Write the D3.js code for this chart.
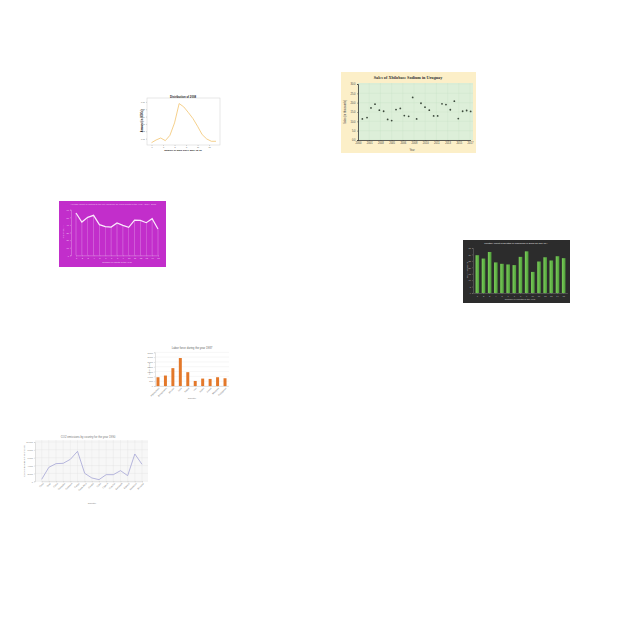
<!DOCTYPE html>
<html>
<head>
<meta charset="utf-8">
<script src="https://cdn.jsdelivr.net/npm/d3@7"></script>
<style>
  body { margin: 0; background: #fff; }
  svg { display: block; }
  text { font-family: "Liberation Sans", Arial, sans-serif; }
</style>
</head>
<body>
<svg width="640" height="640"></svg>
<script>
// ---- data ----
// distribution line (top left)
var distDays = [0, 1, 2, 3, 4, 5, 6, 7, 8, 9, 10, 11, 12, 13, 14];
var distVals = [0.0045, 0.0082, 0.0109, 0.0073, 0.0145, 0.0314, 0.0577, 0.0532, 0.0455, 0.0373, 0.0268, 0.0155, 0.0095, 0.0064, 0.0064];
var distYTicks = [0.01, 0.02, 0.03, 0.04, 0.05, 0.06];
var distXTicks = [0, 2.5, 5, 7.5, 10, 12.5];

// sales scatter (top right)
var salesYears = [2000.66, 2001.37, 2001.97, 2002.58, 2003.24, 2003.89, 2004.50, 2005.11, 2005.77, 2006.42,
                  2007.03, 2007.69, 2008.30, 2008.90, 2009.56, 2010.17, 2010.82, 2011.48, 2012.09, 2012.75,
                  2013.35, 2014.01, 2014.62, 2015.22, 2015.88, 2016.49, 2017.10];
var salesVals = [11.3, 12.0, 17.2, 19.2, 16.0, 15.4, 11.0, 10.4, 16.3, 16.9,
                 13.1, 12.7, 22.8, 11.3, 19.7, 17.6, 16.0, 12.9, 12.9, 19.4,
                 19.0, 16.2, 20.8, 11.5, 15.4, 15.8, 15.3];
var salesXTicks = [2000, 2001.7, 2003.4, 2005.1, 2006.8, 2008.5, 2010.2, 2011.9, 2013.6, 2015.3, 2017];
var salesYTicks = [0, 5, 10, 15, 20, 25, 30];

// magenta line
var visitMonths = ['1', '2', '3', '4', '5', '6', '7', '8', '9', '10', '11', '12', '13', '14', '15'];
var visitVals = [55.6, 43.8, 49.9, 52.6, 40.3, 37.7, 37.2, 42.5, 39.4, 36.8, 46.4, 46.0, 42.9, 48.2, 34.6];
var visitYTicks = [0, 10, 20, 30, 40, 50, 60];

// dark green bars
var deathMonths = ['1', '2', '3', '4', '5', '6', '7', '8', '9', '10', '11', '12', '13', '14', '15'];
var deathVals = [29.4, 26.8, 31.9, 23.8, 22.7, 22.2, 21.7, 28.1, 32.4, 16.4, 24.5, 27.8, 25.3, 28.6, 27.1];
var deathYTicks = [0, 5, 10, 15, 20, 25, 30, 35];

// orange bars
var laborCountries = ['Afghanistan', 'Bangladesh', 'Bhutan', 'India', 'Nepal', 'Iran', 'Japan', 'Korea', 'Malaysia', 'Philippines'];
var laborVals = [910, 1085, 1855, 2905, 1435, 525, 770, 735, 910, 805];
var laborYTicks = [0, 500, 1000, 1500, 2000, 2500, 3000, 3500];

// co2 line (bottom left)
var co2Countries = ['Chad', 'Chile', 'China', 'Colombia', 'Comoros', 'Congo', 'Costa Rica', 'Croatia',
                    'Cuba', 'Cyprus', 'Czechia', 'Denmark', 'Djibouti', 'Dominica', 'Ecuador'];
var co2Vals = [510, 3560, 4490, 4580, 5590, 7630, 2030, 850, 420, 1690, 1690, 2710, 1440, 6950, 4320];
var co2YTicks = [0, 2000, 4000, 6000, 8000, 10000];

var svg = d3.select('svg');

function styleAxis(g, color, size, lineColor) {
  g.selectAll('text').attr('fill', color).style('font-size', size + 'px');
  g.selectAll('line,path').attr('stroke', lineColor).attr('stroke-width', 0.4);
}

// ---------- distribution line ----------
var g1 = svg.append('g');
var x1 = d3.scaleLinear().domain([0, 14]).range([151.5, 216]);
var y1 = d3.scaleLinear().domain([0, 0.068]).range([146, 96]);

g1.append('rect').attr('x', 147).attr('y', 98).attr('width', 73).attr('height', 47)
  .attr('fill', 'none').attr('stroke', '#cfcfcf').attr('stroke-width', 0.5);
g1.append('g').attr('transform', 'translate(147,0)')
  .call(d3.axisLeft(y1).tickValues(distYTicks).tickSize(1).tickPadding(1).tickFormat(d3.format('.2f')))
  .call(styleAxis, '#666', 2, '#999')
  .select('.domain').remove();
g1.append('g').attr('transform', 'translate(0,145)')
  .call(d3.axisBottom(x1).tickValues(distXTicks).tickSize(1).tickPadding(1))
  .call(styleAxis, '#666', 2, '#999')
  .select('.domain').remove();
g1.append('path').datum(distVals)
  .attr('fill', 'none').attr('stroke', '#f3c46e').attr('stroke-width', 0.8)
  .attr('d', d3.line().x(function(d, i) { return x1(distDays[i]); }).y(function(d) { return y1(d); }));
g1.append('text').attr('x', 183).attr('y', 97.5).attr('text-anchor', 'middle')
  .style('font-size', '2.8px').style('font-weight', 'bold').attr('fill', '#222').text('Distribution of 2008');
g1.append('text').attr('x', 183).attr('y', 150.5).attr('text-anchor', 'middle')
  .style('font-size', '2.4px').style('font-weight', 'bold').attr('fill', '#222').text('Number of days since 2007-12-31');
g1.append('text').attr('transform', 'translate(142.5,121) rotate(-90)').attr('text-anchor', 'middle')
  .style('font-size', '2.6px').style('font-weight', 'bold').attr('fill', '#111').text('Amount (in 1000s)');

// ---------- sales scatter ----------
var g2 = svg.append('g');
var x2 = d3.scaleLinear().domain([2000, 2017]).range([358, 470]);
var y2 = d3.scaleLinear().domain([0, 30]).range([140, 84]);

g2.append('rect').attr('x', 341).attr('y', 72).attr('width', 135).attr('height', 81).attr('fill', '#fcefc8');
g2.append('rect').attr('x', 358).attr('y', 83).attr('width', 115).attr('height', 57).attr('fill', '#ddefd9');
g2.append('g').selectAll('line').data(salesYTicks).enter().append('line')
  .attr('x1', 358).attr('x2', 473)
  .attr('y1', function(d) { return y2(d); }).attr('y2', function(d) { return y2(d); })
  .attr('stroke', '#c6e0c4').attr('stroke-width', 0.3);
g2.append('g').selectAll('line').data(salesXTicks).enter().append('line')
  .attr('x1', function(d) { return x2(d); }).attr('x2', function(d) { return x2(d); })
  .attr('y1', 83).attr('y2', 140)
  .attr('stroke', '#c6e0c4').attr('stroke-width', 0.3);
g2.append('g').attr('transform', 'translate(358,0)')
  .call(d3.axisLeft(y2).tickValues(salesYTicks).tickSize(1).tickPadding(1.5).tickFormat(d3.format('.1f')))
  .call(styleAxis, '#444', 2.6, '#333')
  .select('.domain').attr('stroke-width', 0.8);
g2.append('g').attr('transform', 'translate(0,140)')
  .call(d3.axisBottom(x2).tickValues(salesXTicks).tickSize(1).tickPadding(1.5)
    .tickFormat(function(d) { return Math.floor(d); }))
  .call(styleAxis, '#444', 2.6, '#333')
  .select('.domain').attr('stroke-width', 0.8);
g2.append('g').selectAll('circle').data(salesVals).enter().append('circle')
  .attr('cx', function(d, i) { return x2(salesYears[i]); })
  .attr('cy', function(d) { return y2(d); })
  .attr('r', 0.9).attr('fill', '#3d4a3d');
g2.append('text').attr('x', 408).attr('y', 79).attr('text-anchor', 'middle')
  .style('font-family', '"Liberation Serif", serif').style('font-size', '4.2px').style('font-weight', 'bold')
  .attr('fill', '#333').text('Sales of Xbilobase Sodium in Uruguay');
g2.append('text').attr('x', 412).attr('y', 150.5).attr('text-anchor', 'middle')
  .style('font-size', '2.6px').attr('fill', '#444').text('Year');
g2.append('text').attr('transform', 'translate(345.5,112) rotate(-90)').attr('text-anchor', 'middle')
  .style('font-size', '2.6px').attr('fill', '#444').text('Sales (in thousands)');

// ---------- magenta line ----------
var g3 = svg.append('g');
var x3 = d3.scalePoint().domain(visitMonths).range([76, 158]);
var y3 = d3.scaleLinear().domain([0, 60]).range([255.3, 209.7]);

g3.append('rect').attr('x', 59).attr('y', 201).attr('width', 107).attr('height', 66).attr('fill', '#c22ecb');
// drop lines from each point to the axis
g3.append('g').selectAll('line').data(visitVals).enter().append('line')
  .attr('x1', function(d, i) { return x3(visitMonths[i]); })
  .attr('x2', function(d, i) { return x3(visitMonths[i]); })
  .attr('y1', function(d) { return y3(d); }).attr('y2', 255.3)
  .attr('stroke', '#f0c8f2').attr('stroke-width', 0.4).attr('opacity', 0.8);
g3.append('g').attr('transform', 'translate(71,0)')
  .call(d3.axisLeft(y3).tickValues(visitYTicks).tickSize(1).tickPadding(1))
  .call(styleAxis, '#f3d6f4', 2.2, '#e9b4ec');
g3.append('g').attr('transform', 'translate(0,255.3)')
  .call(d3.axisBottom(x3).tickSize(1).tickPadding(1))
  .call(styleAxis, '#f3d6f4', 2.2, '#e9b4ec');
g3.append('path').datum(visitVals)
  .attr('fill', 'none').attr('stroke', '#fbeafc').attr('stroke-width', 1.2)
  .attr('d', d3.line().x(function(d, i) { return x3(visitMonths[i]); }).y(function(d) { return y3(d); }));
g3.append('text').attr('x', 113).attr('y', 205).attr('text-anchor', 'middle')
  .style('font-size', '2.3px').attr('fill', '#efc4f1')
  .text('Average count of visitors to the city museum for each month of the year - 2014, 2015');
g3.append('text').attr('x', 117).attr('y', 263).attr('text-anchor', 'middle')
  .style('font-size', '2.3px').attr('fill', '#f3d6f4').text('Number of Month of the Year');
g3.append('text').attr('transform', 'translate(63.5,232) rotate(-90)').attr('text-anchor', 'middle')
  .style('font-size', '2.3px').attr('fill', '#f3d6f4').text('Visitor count');

// ---------- dark green bars ----------
var g4 = svg.append('g');
var x4 = d3.scaleBand().domain(deathMonths).range([474, 567]).paddingInner(0.42).paddingOuter(0.25);
var y4 = d3.scaleLinear().domain([0, 35]).range([293, 248]);

var grad = svg.append('defs').append('linearGradient').attr('id', 'barGreen')
  .attr('x1', 0).attr('x2', 1).attr('y1', 0).attr('y2', 0);
grad.append('stop').attr('offset', '0%').attr('stop-color', '#7ccf5a');
grad.append('stop').attr('offset', '100%').attr('stop-color', '#4e9c3a');

g4.append('rect').attr('x', 463).attr('y', 240).attr('width', 107).attr('height', 63).attr('fill', '#2c2c2c');
g4.append('g').attr('transform', 'translate(473,0)')
  .call(d3.axisLeft(y4).tickValues(deathYTicks).tickSize(1).tickPadding(1))
  .call(styleAxis, '#bbb', 2.2, '#888');
g4.append('g').attr('transform', 'translate(0,293)')
  .call(d3.axisBottom(x4).tickSize(1).tickPadding(1))
  .call(styleAxis, '#bbb', 2.2, '#888');
g4.append('g').selectAll('rect').data(deathVals).enter().append('rect')
  .attr('x', function(d, i) { return x4(deathMonths[i]); })
  .attr('y', function(d) { return y4(d); })
  .attr('width', x4.bandwidth())
  .attr('height', function(d) { return 293 - y4(d); })
  .attr('fill', 'url(#barGreen)');
g4.append('text').attr('x', 516).attr('y', 244).attr('text-anchor', 'middle')
  .style('font-size', '2.5px').attr('fill', '#e8e8e8')
  .text('Monthly count of Deaths in Indonesia in 2015 for age 60+');
g4.append('text').attr('x', 520).attr('y', 299.5).attr('text-anchor', 'middle')
  .style('font-size', '2.3px').attr('fill', '#ccc').text('Number of Months of the year');
g4.append('text').attr('transform', 'translate(467.5,270) rotate(-90)').attr('text-anchor', 'middle')
  .style('font-size', '2.3px').attr('fill', '#ccc').text('Count of deaths');

// ---------- orange bars ----------
var g5 = svg.append('g');
var x5 = d3.scaleBand().domain(laborCountries).range([155, 228]).paddingInner(0.6).paddingOuter(0.2);
var y5 = d3.scaleLinear().domain([0, 3500]).range([386, 352.3]);

g5.append('g').selectAll('line').data(laborYTicks).enter().append('line')
  .attr('x1', 155).attr('x2', 229)
  .attr('y1', function(d) { return y5(d); }).attr('y2', function(d) { return y5(d); })
  .attr('stroke', '#e4e4e4').attr('stroke-width', 0.35);
g5.append('g').attr('transform', 'translate(155,0)')
  .call(d3.axisLeft(y5).tickValues(laborYTicks).tickSize(1).tickPadding(1))
  .call(styleAxis, '#777', 2.2, '#bbb');
g5.append('g').attr('transform', 'translate(0,386)')
  .call(d3.axisBottom(x5).tickSize(1).tickPadding(1))
  .call(styleAxis, '#777', 2.2, '#bbb')
  .selectAll('text').attr('text-anchor', 'end')
  .attr('transform', 'rotate(-45)').attr('dx', '-0.3em').attr('dy', '0.4em');
g5.append('g').selectAll('rect').data(laborVals).enter().append('rect')
  .attr('x', function(d, i) { return x5(laborCountries[i]); })
  .attr('y', function(d) { return y5(d); })
  .attr('width', x5.bandwidth())
  .attr('height', function(d) { return 386 - y5(d); })
  .attr('fill', '#e3782a');
g5.append('text').attr('x', 192).attr('y', 349).attr('text-anchor', 'middle')
  .style('font-size', '2.8px').attr('fill', '#666').text('Labor force during the year 1987');
g5.append('text').attr('x', 192).attr('y', 398.5).attr('text-anchor', 'middle')
  .style('font-size', '2.4px').attr('fill', '#777').text('Country');
g5.append('text').attr('transform', 'translate(149.5,369) rotate(-90)').attr('text-anchor', 'middle')
  .style('font-size', '2.4px').attr('fill', '#777').text('Labor force');

// ---------- co2 line ----------
var g6 = svg.append('g');
var x6 = d3.scalePoint().domain(co2Countries).range([41.7, 142]);
var y6 = d3.scaleLinear().domain([0, 10000]).range([481.3, 442]);

g6.append('rect').attr('x', 35).attr('y', 440).attr('width', 113).attr('height', 41.3).attr('fill', '#f7f7f7');
g6.append('g').selectAll('line').data(co2YTicks).enter().append('line')
  .attr('x1', 35).attr('x2', 148)
  .attr('y1', function(d) { return y6(d); }).attr('y2', function(d) { return y6(d); })
  .attr('stroke', '#e2e2e2').attr('stroke-width', 0.35);
g6.append('g').selectAll('line').data(co2Countries).enter().append('line')
  .attr('x1', function(d) { return x6(d); }).attr('x2', function(d) { return x6(d); })
  .attr('y1', 440).attr('y2', 481.3)
  .attr('stroke', '#e2e2e2').attr('stroke-width', 0.35);
g6.append('g').attr('transform', 'translate(35,0)')
  .call(d3.axisLeft(y6).tickValues(co2YTicks).tickSize(1).tickPadding(1))
  .call(styleAxis, '#777', 2.2, '#bbb');
g6.append('g').attr('transform', 'translate(0,481.3)')
  .call(d3.axisBottom(x6).tickSize(1).tickPadding(1))
  .call(styleAxis, '#777', 2.2, '#bbb')
  .selectAll('text').attr('text-anchor', 'end')
  .attr('transform', 'rotate(-45)').attr('dx', '-0.3em').attr('dy', '0.4em');
g6.append('path').datum(co2Vals)
  .attr('fill', 'none').attr('stroke', '#a4a4d6').attr('stroke-width', 0.8)
  .attr('d', d3.line().x(function(d, i) { return x6(co2Countries[i]); }).y(function(d) { return y6(d); }));
g6.append('text').attr('x', 88).attr('y', 438).attr('text-anchor', 'middle')
  .style('font-size', '2.8px').attr('fill', '#777').text('CO2 emissions by country for the year 1990');
g6.append('text').attr('x', 92).attr('y', 504).attr('text-anchor', 'middle')
  .style('font-size', '2.4px').attr('fill', '#777').text('Country');
g6.append('text').attr('transform', 'translate(25,461) rotate(-90)').attr('text-anchor', 'middle')
  .style('font-size', '2.4px').attr('fill', '#777').text('Carbon dioxide emissions (kt)');
</script>
</body>
</html>
